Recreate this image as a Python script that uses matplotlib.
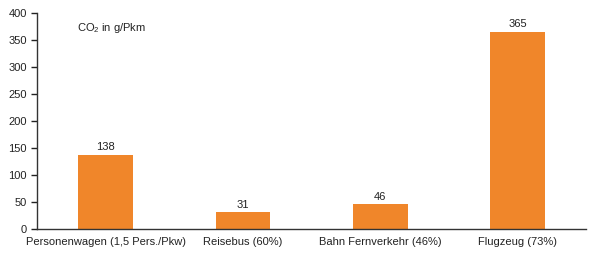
import matplotlib
matplotlib.use("Agg")
import matplotlib.pyplot as plt

categories = ["Personenwagen (1,5 Pers./Pkw)", "Reisebus (60%)", "Bahn Fernverkehr (46%)", "Flugzeug (73%)"]
values = [138, 31, 46, 365]
yticks = [0, 50, 100, 150, 200, 250, 300, 350, 400]

plt.rcParams["font.family"] = ["Liberation Sans", "DejaVu Sans"]
plt.rcParams["mathtext.fontset"] = "custom"
plt.rcParams["mathtext.rm"] = "Liberation Sans"

fig = plt.figure(figsize=(6.08, 2.58), dpi=100)
ax = fig.add_axes([0.061, 0.112, 0.903, 0.838])

x = range(len(categories))
ax.bar(x, values, width=0.4, color="#F0862A")
for i, v in zip(x, values):
    ax.text(i, v + 5, str(v), ha="center", va="bottom", fontsize=8, color="#222222")

ax.set_xlim(-0.5, 3.5)
ax.set_ylim(0, 400)
ax.set_yticks(yticks)
ax.set_xticks(list(x))
ax.set_xticklabels(categories)
ax.tick_params(axis="x", length=0, labelsize=8, pad=6, colors="#222222")
ax.tick_params(axis="y", length=4, labelsize=8, colors="#222222", width=1)
for side in ["top", "right"]:
    ax.spines[side].set_visible(False)
for side in ["left", "bottom"]:
    ax.spines[side].set_color("#333333")
    ax.spines[side].set_linewidth(1)

# unit note inside the plot area
ax.text(0.073, 0.93, "CO$_\\mathregular{2}$ in g/Pkm", transform=ax.transAxes, fontsize=8, va="center", color="#222222")

fig.savefig("out.png", dpi=100)
